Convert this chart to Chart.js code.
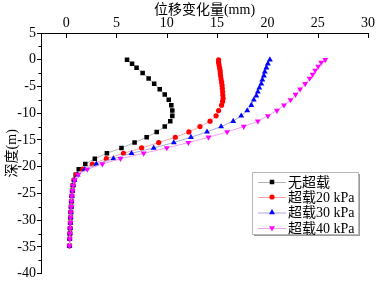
<!DOCTYPE html>
<html>
<head>
<meta charset="utf-8">
<script src="https://cdn.jsdelivr.net/npm/chart.js@4.4.0/dist/chart.umd.min.js"></script>
<style>
    body { margin: 0; background: #fff; }
</style>
</head>
<body>
<canvas id="myDispChart" width="377" height="283"></canvas>
<script>
// 深度 (m) / 位移 (mm), 읽은 값
var blackDepth = [0, -0.75, -1.5, -2.5, -3.5, -4.5, -5.5, -6.5, -7.5, -8.5, -9.5, -10.5, -11.5, -12.5, -13.5, -14.5, -15.5, -16.5, -17.5, -18.5, -19.5, -20.5, -21.5, -22.5, -23.5, -24.5, -25.5, -26.5, -27.5, -28.5, -29.5, -30.5, -31.5, -32.5, -33.5, -34.8];
var blackDisp = [6.05, 6.55, 7.0, 7.6, 8.2, 8.75, 9.3, 9.8, 10.2, 10.45, 10.55, 10.55, 10.35, 9.8, 9.0, 8.0, 6.8, 5.5, 4.05, 2.85, 1.9, 1.25, 0.95, 0.78, 0.68, 0.62, 0.57, 0.53, 0.5, 0.47, 0.45, 0.42, 0.4, 0.38, 0.36, 0.34];

var redDepth = [0, -0.5, -1, -1.5, -2, -2.5, -3, -3.6, -4.2, -4.8, -5.4, -6, -6.6, -7.2, -7.8, -8.5, -9.5, -10.5, -11.5, -12.5, -13.5, -14.5, -15.5, -16.5, -17.5, -18.5, -19.5, -20.5, -21.5, -22.5, -23.5, -24.5, -25.5, -26.5, -27.5, -28.5, -29.5, -30.5, -31.5, -32.5, -33.5, -34.8];
var redDisp = [15.15, 15.15, 15.2, 15.25, 15.3, 15.32, 15.35, 15.4, 15.45, 15.5, 15.52, 15.55, 15.57, 15.6, 15.55, 15.45, 15.15, 14.9, 14.3, 13.3, 12.2, 10.85, 9.2, 7.5, 5.7, 4.0, 2.6, 1.65, 1.0, 0.78, 0.68, 0.61, 0.56, 0.52, 0.49, 0.46, 0.44, 0.41, 0.39, 0.37, 0.35, 0.33];

var blueDepth = [0, -0.75, -1.5, -2.25, -3, -3.75, -4.5, -5.25, -6, -6.75, -7.5, -8.5, -9.5, -10.5, -11.5, -12.5, -13.5, -14.5, -15.5, -16.5, -17.5, -18.5, -19.5, -20.5, -21.5, -22.5, -23.5, -24.5, -25.5, -26.5, -27.5, -28.5, -29.5, -30.5, -31.5, -32.5, -33.5, -34.8];
var blueDisp = [20.25, 20.05, 19.9, 19.75, 19.65, 19.5, 19.4, 19.2, 19.05, 18.9, 18.65, 18.4, 18.0, 17.4, 16.6, 15.4, 14.0, 12.4, 10.7, 8.7, 6.5, 4.7, 3.0, 1.85, 1.15, 0.82, 0.69, 0.62, 0.57, 0.53, 0.5, 0.47, 0.44, 0.42, 0.4, 0.37, 0.35, 0.33];

var pinkDepth = [0, -0.5, -1.25, -2, -2.75, -3.5, -4.5, -5.5, -6.5, -7.5, -8.5, -9.5, -10.5, -11.5, -12.5, -13.5, -14.5, -15.5, -16.5, -17.5, -18.5, -19.5, -20.5, -21.5, -22.5, -23.5, -24.5, -25.5, -26.5, -27.5, -28.5, -29.5, -30.5, -31.5, -32.5, -33.5, -34.8];
var pinkDisp = [25.75, 25.35, 25.05, 24.75, 24.5, 24.2, 23.75, 23.25, 22.8, 22.3, 21.65, 20.95, 20.05, 19.05, 17.65, 16.0, 14.15, 12.15, 10.0, 7.7, 5.4, 3.6, 2.1, 1.2, 0.85, 0.7, 0.63, 0.58, 0.54, 0.5, 0.47, 0.45, 0.42, 0.4, 0.38, 0.36, 0.33];

var seriesNames = ['无超载', '超载20 kPa', '超载30 kPa', '超载40 kPa'];
var xTicks = [0, 5, 10, 15, 20, 25, 30];

var fontFamily = "'Liberation Serif', 'Noto Sans CJK SC', serif";

function toPoints(depthList, dispList) {
    var pts = [];
    for (let i = 0; i < depthList.length; i++) {
        pts.push({x: dispList[i], y: depthList[i]});
    }
    return pts;
}

// 축 눈금 + 범례 그리기
var extraDraw = {
    id: 'extraDraw',
    afterDraw: function (chart) {
        var ctx = chart.ctx;
        var xs = chart.scales.x;
        var ys = chart.scales.y;
        var area = chart.chartArea;
        ctx.save();
        ctx.strokeStyle = '#000';
        ctx.lineWidth = 1;
        ctx.beginPath();
        for (let i = 0; i < xTicks.length; i++) {
            var px = Math.round(xs.getPixelForValue(xTicks[i])) + 0.5;
            ctx.moveTo(px, area.top);
            ctx.lineTo(px, area.top + 5);
        }
        for (let v = 2.5; v > -40; v -= 5) {
            var py = Math.round(ys.getPixelForValue(v)) + 0.5;
            ctx.moveTo(area.left - 2.5, py);
            ctx.lineTo(area.left, py);
        }
        ctx.stroke();

        // 범례 박스
        var bx = 252, by = 172, bw = 106, bh = 62;
        ctx.fillStyle = '#9a9a9a';
        ctx.fillRect(bx + 2, by + 2, bw, bh);
        ctx.fillStyle = '#fff';
        ctx.fillRect(bx, by, bw, bh);
        ctx.strokeStyle = '#b8b8b8';
        ctx.strokeRect(bx + 0.5, by + 0.5, bw, bh);

        var rows = [182, 197, 212.5, 228];
        var dsets = chart.data.datasets;
        ctx.font = '14px ' + fontFamily;
        ctx.textBaseline = 'middle';
        ctx.textAlign = 'left';
        for (let i = 0; i < dsets.length; i++) {
            var ds = dsets[i];
            ctx.strokeStyle = ds.borderColor;
            ctx.lineWidth = 1;
            ctx.beginPath();
            ctx.moveTo(258, rows[i] + 0.5);
            ctx.lineTo(286, rows[i] + 0.5);
            ctx.stroke();
            ctx.fillStyle = ds.pointBackgroundColor;
            ctx.strokeStyle = ds.pointBorderColor;
            Chart.helpers.drawPoint(ctx, {
                pointStyle: ds.pointStyle,
                rotation: ds.pointRotation || 0,
                radius: ds.pointRadius,
                borderWidth: 0
            }, 272, rows[i]);
            ctx.fillStyle = '#000';
            ctx.fillText(seriesNames[i], 288, rows[i] + 1);
        }
        ctx.restore();
    }
};

var ctx1 = document.getElementById('myDispChart').getContext('2d');
new Chart(ctx1, {
    type: 'scatter',
    data: {
        datasets: [{
            label: seriesNames[0],
            data: toPoints(blackDepth, blackDisp),
            showLine: true,
            borderColor: '#b4b4b4',
            borderWidth: 1,
            pointStyle: 'rect',
            pointRadius: 3.2,
            pointBackgroundColor: '#000',
            pointBorderColor: '#000',
            pointBorderWidth: 0,
            order: 3
        }, {
            label: seriesNames[1],
            data: toPoints(redDepth, redDisp),
            showLine: true,
            borderColor: '#f2a8a8',
            borderWidth: 1,
            pointStyle: 'circle',
            pointRadius: 2.6,
            pointBackgroundColor: '#ff0000',
            pointBorderColor: '#ff0000',
            pointBorderWidth: 0,
            order: 2
        }, {
            label: seriesNames[2],
            data: toPoints(blueDepth, blueDisp),
            showLine: true,
            borderColor: '#a8a8e0',
            borderWidth: 1,
            pointStyle: 'triangle',
            pointRadius: 3.4,
            pointBackgroundColor: '#0000ff',
            pointBorderColor: '#0000ff',
            pointBorderWidth: 0,
            order: 1
        }, {
            label: seriesNames[3],
            data: toPoints(pinkDepth, pinkDisp),
            showLine: true,
            borderColor: '#f0a0f0',
            borderWidth: 1,
            pointStyle: 'triangle',
            pointRotation: 180,
            pointRadius: 3.4,
            pointBackgroundColor: '#ff00ff',
            pointBorderColor: '#ff00ff',
            pointBorderWidth: 0,
            order: 0
        }]
    },
    options: {
        responsive: false,
        animation: false,
        layout: {
            padding: {left: 0, right: 9, top: 0, bottom: 7}
        },
        plugins: {
            legend: {display: false},
            tooltip: {enabled: false}
        },
        scales: {
            x: {
                type: 'linear',
                position: 'top',
                min: -2.5,
                max: 30,
                afterBuildTicks: function (scale) {
                    scale.ticks = xTicks.map(function (v) { return {value: v}; });
                },
                afterFit: function (scale) {
                    scale.height = 33;
                },
                grid: {display: false, drawTicks: false},
                border: {display: true, color: '#000', width: 1},
                ticks: {
                    color: '#000',
                    padding: 1,
                    maxRotation: 0,
                    font: {family: fontFamily, size: 14}
                },
                title: {
                    display: true,
                    text: '位移变化量(mm)',
                    color: '#000',
                    padding: {top: 2, bottom: 0},
                    font: {family: fontFamily, size: 14}
                }
            },
            y: {
                type: 'linear',
                min: -40,
                max: 5,
                ticks: {
                    stepSize: 5,
                    color: '#000',
                    padding: 1,
                    font: {family: fontFamily, size: 14}
                },
                afterFit: function (scale) {
                    scale.width = 41;
                },
                grid: {
                    display: true,
                    drawOnChartArea: false,
                    drawTicks: true,
                    tickLength: 4,
                    color: '#000'
                },
                border: {display: true, color: '#000', width: 1},
                title: {
                    display: true,
                    text: '深度(m)',
                    color: '#000',
                    font: {family: fontFamily, size: 14}
                }
            }
        }
    },
    plugins: [extraDraw]
});
</script>
</body>
</html>
